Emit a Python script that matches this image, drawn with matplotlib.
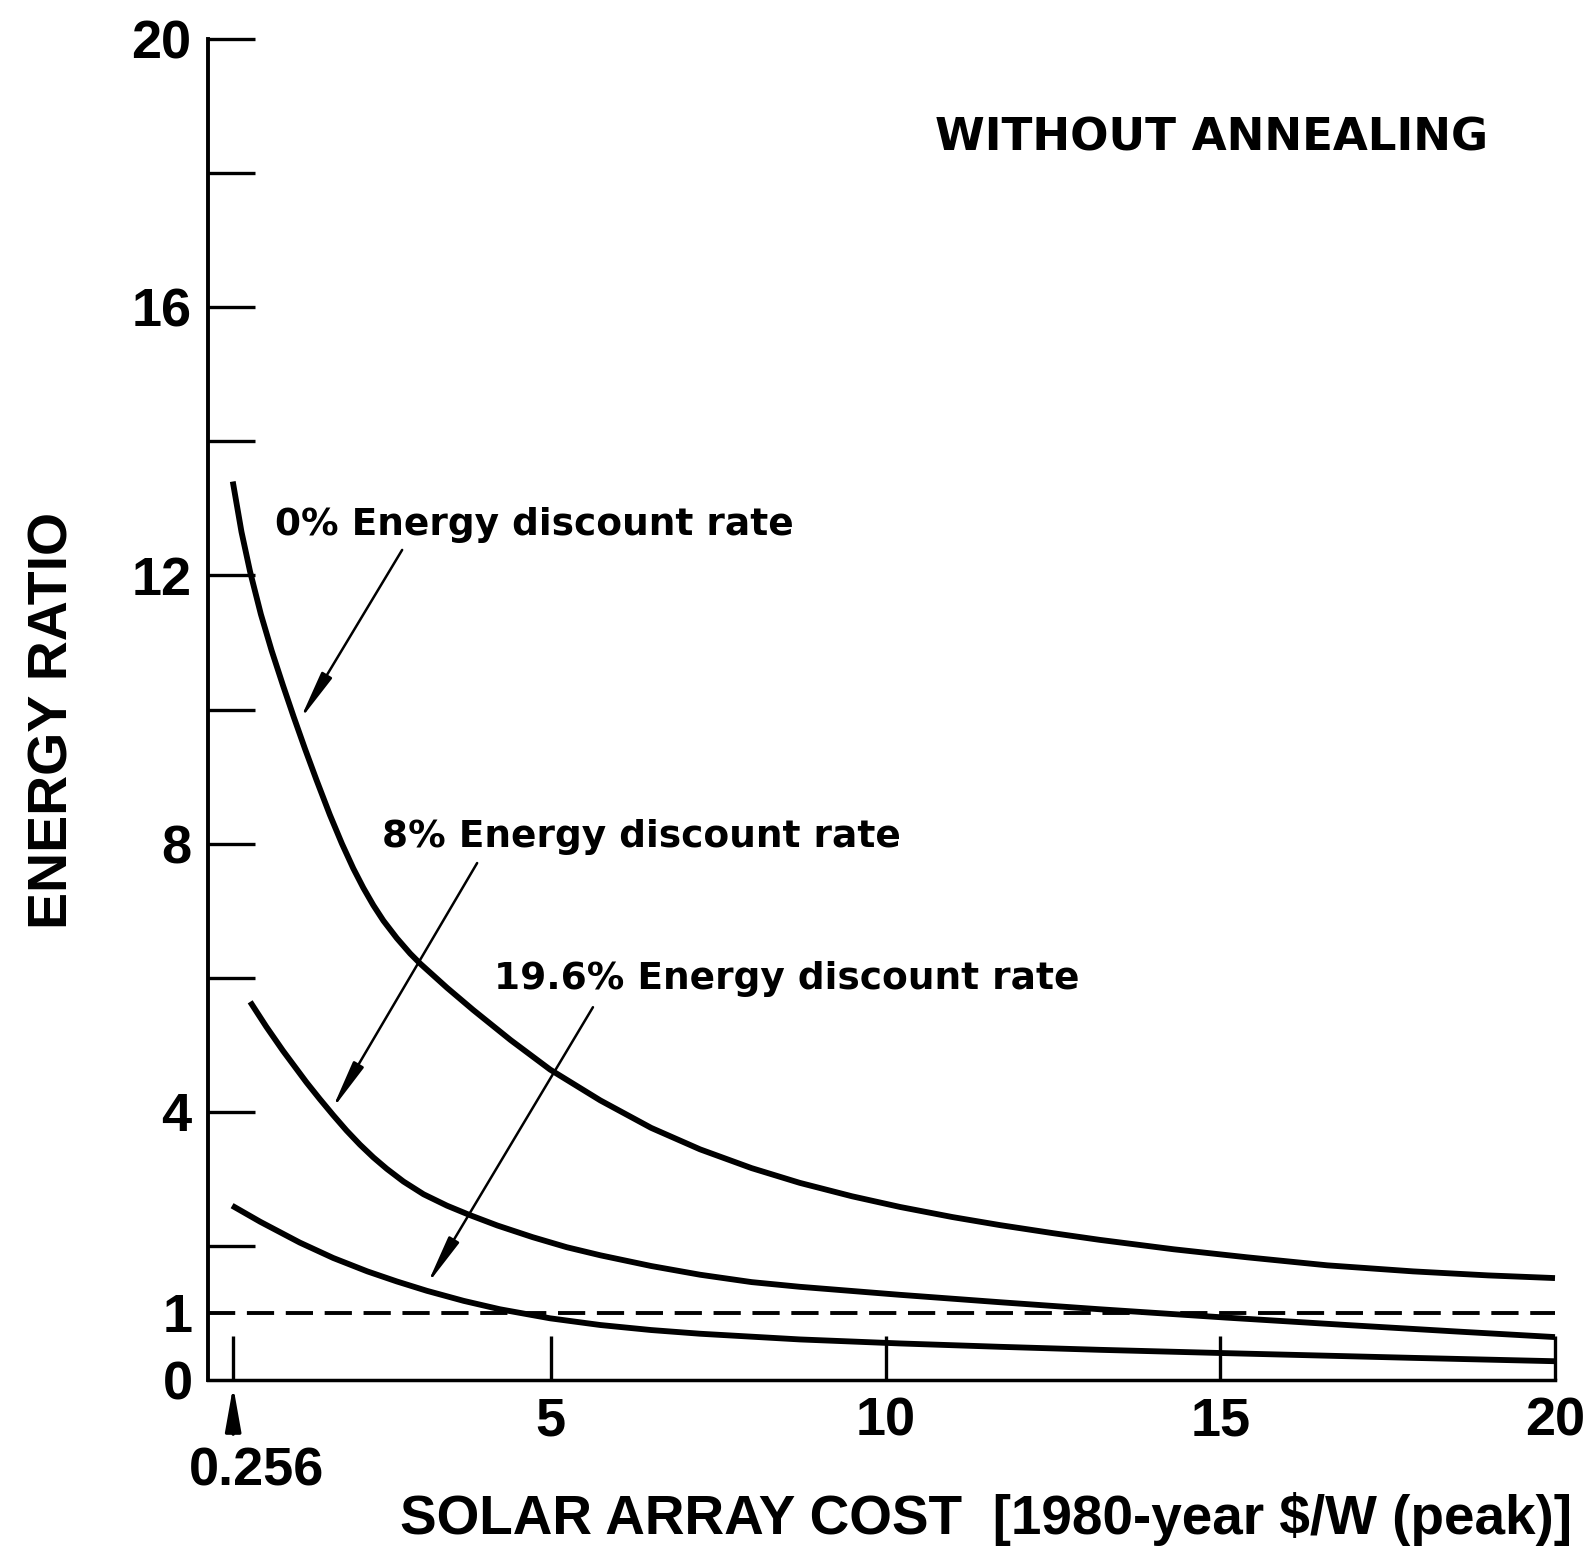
import matplotlib
matplotlib.use("Agg")
import matplotlib.pyplot as plt

# values
x_0 = [0.25, 0.38, 0.51, 0.67, 0.83, 1.0, 1.16, 1.33, 1.50, 1.70, 1.88, 2.05, 2.20, 2.35, 2.50,
       2.70, 2.90, 3.05, 3.45, 3.84, 4.40, 4.99, 5.74, 6.50, 7.23, 8.00, 8.72, 9.50, 10.22,
       11.00, 11.71, 12.50, 13.20, 14.30, 15.40, 16.60, 17.88, 19.00, 20.0]
y_0 = [13.40, 12.65, 12.05, 11.42, 10.88, 10.36, 9.89, 9.41, 8.95, 8.43, 8.00, 7.63, 7.34, 7.08, 6.85,
       6.59, 6.36, 6.21, 5.85, 5.52, 5.07, 4.63, 4.17, 3.76, 3.44, 3.16, 2.94, 2.74, 2.58,
       2.43, 2.31, 2.19, 2.09, 1.95, 1.83, 1.71, 1.62, 1.56, 1.52]

x_8 = [0.51, 0.75, 1.0, 1.35, 1.55, 1.75, 1.95, 2.15, 2.35, 2.55, 2.80, 3.10, 3.45, 3.79, 4.20,
       4.73, 5.24, 5.74, 6.50, 7.23, 8.00, 8.72, 10.22, 11.71, 13.20, 15.10, 16.89, 18.50, 20.0]
y_8 = [5.64, 5.27, 4.91, 4.44, 4.19, 3.95, 3.72, 3.51, 3.32, 3.15, 2.96, 2.77, 2.60, 2.46, 2.305,
       2.13, 1.98, 1.86, 1.70, 1.57, 1.46, 1.39, 1.27, 1.16, 1.055, 0.93, 0.82, 0.725, 0.64]

x_19 = [0.24, 0.66, 1.25, 1.75, 2.26, 2.70, 3.15, 3.70, 4.24, 4.99, 5.74, 6.50, 7.23, 8.72,
        10.22, 11.71, 13.20, 15.10, 17.88, 20.0]
y_19 = [2.60, 2.36, 2.05, 1.82, 1.62, 1.47, 1.33, 1.18, 1.055, 0.92, 0.82, 0.745, 0.69, 0.605,
        0.545, 0.495, 0.45, 0.40, 0.33, 0.28]

breakeven = 1.0
x_ticks = [0.256, 5, 10, 15, 20]
x_ticklabels = ["", "5", "10", "15", "20"]
y_ticks = [2, 4, 6, 8, 10, 12, 14, 16, 18, 20]
y_ticklabels = ["", "4", "", "8", "", "12", "", "16", "", "20"]

labels = ["0% Energy discount rate", "8% Energy discount rate", "19.6% Energy discount rate"]

num_font = dict(family="Liberation Sans", weight="bold")
lab_font = dict(family="DejaVu Sans", weight="bold")

fig = plt.figure(figsize=(15.93, 15.56), dpi=100)
ax = fig.add_axes([208/1593, 176/1556, 1347/1593, 1341/1556])

for xs, ys in [(x_0, y_0), (x_8, y_8), (x_19, y_19)]:
    ax.plot(xs, ys, color="black", lw=4.2, solid_capstyle="butt",
            solid_joinstyle="round", clip_on=False)

ax.axhline(breakeven, color="black", lw=2.8, linestyle=(0, (7, 3)))

ax.set_xlim(-0.12, 20)
ax.set_ylim(0, 20)
ax.spines["top"].set_visible(False)
ax.spines["right"].set_visible(False)
ax.spines["left"].set_linewidth(2.8)
ax.spines["bottom"].set_linewidth(2.5)

ax.set_xticks(x_ticks, x_ticklabels)
ax.set_yticks(y_ticks, y_ticklabels)
ax.set_yticks([0, 1], ["0", "1"], minor=True)
ax.tick_params(axis="x", direction="in", length=32, width=2.4, pad=12)
ax.tick_params(axis="y", direction="in", length=34, width=2.4, pad=12)
ax.tick_params(axis="y", which="minor", length=0, pad=11)
for t in ax.get_xticklabels() + ax.get_yticklabels() + ax.get_yticklabels(minor=True):
    t.set_fontfamily("Liberation Sans")
    t.set_fontweight("bold")
    t.set_fontsize(39)

# 0.256 marker below the axis
ax.annotate("", xy=(0.256, -0.05), xytext=(0.256, -0.85),
            arrowprops=dict(arrowstyle="-|>,head_width=0.16,head_length=0.9",
                            lw=2.4, color="black", mutation_scale=30),
            annotation_clip=False)
ax.text(0.61, -1.36, "0.256", fontsize=39, ha="center", va="center", clip_on=False, **num_font)

# curve labels with arrows
ax.text(0.88, 12.75, labels[0], fontsize=27, ha="left", va="center", **lab_font)
ax.text(2.48, 8.10, labels[1], fontsize=27, ha="left", va="center", **lab_font)
ax.text(4.15, 5.98, labels[2], fontsize=27, ha="left", va="center", **lab_font)
arrows = [((2.78, 12.38), (1.25, 9.84)),
          ((3.90, 7.71), (1.73, 4.03)),
          ((5.63, 5.56), (3.15, 1.42))]
for tail, head in arrows:
    ax.annotate("", xy=head, xytext=tail,
                arrowprops=dict(arrowstyle="-|>,head_width=0.12,head_length=1.0",
                                lw=1.8, color="black", mutation_scale=30,
                                shrinkA=0, shrinkB=0))

ax.text(10.74, 18.52, "WITHOUT ANNEALING", fontsize=32.5, ha="left", va="center", **lab_font)

fig.text(54/1593, 1 - 720/1556, "ENERGY RATIO", fontsize=40, rotation=90,
         ha="center", va="center", **num_font)
fig.text(1572/1593, 1 - 1519/1556, "SOLAR ARRAY COST  [1980-year $/W (peak)]",
         fontsize=39.5, ha="right", va="center", **num_font)

fig.savefig("out.png", dpi=100)
